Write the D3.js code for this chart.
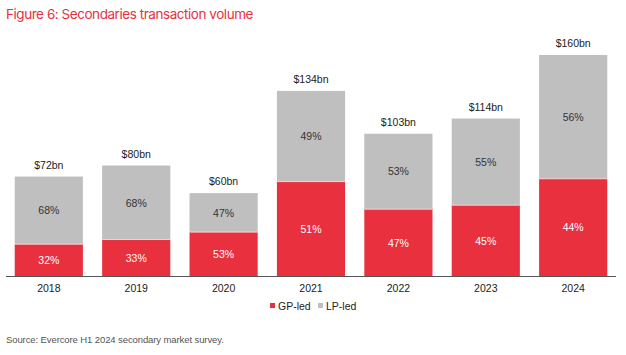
<!DOCTYPE html>
<html><head><meta charset="utf-8">
<script src="https://cdn.jsdelivr.net/npm/d3@7"></script>
<style>body{margin:0;background:#fff}svg{display:block}</style>
</head><body>
<svg id="c" width="626" height="355"></svg>
<script>
const years = ["2018","2019","2020","2021","2022","2023","2024"];
const totals = [72,80,60,134,103,114,160];
const totalLabels = ["$72bn","$80bn","$60bn","$134bn","$103bn","$114bn","$160bn"];
const gpShare = [32,33,53,51,47,45,44];
const lpShare = [68,68,47,49,53,55,56];
const seriesNames = ["GP-led","LP-led"];

const red = "#e8303f", grey = "#bfbfbf";
const svg = d3.select("#c");
const baseY = 276;
const x = d3.scaleBand().domain(years).range([6,616]).paddingInner(0.22).paddingOuter(0.1);
const y = d3.scaleLinear().domain([0,160]).range([baseY, 55]);

svg.append("text").attr("x",6).attr("y",19).attr("fill","#e8303f")
  .style("font-family","Inter, 'Open Sans', sans-serif").style("font-size","13.5px")
  .style("letter-spacing","-0.45px")
  .text("Figure 6: Secondaries transaction volume");

const g = svg.append("g");
years.forEach((yr,i)=>{
  const gpVal = totals[i]*gpShare[i]/100;
  const x0 = x(yr), w = x.bandwidth();
  g.append("rect").attr("x",x0).attr("width",w)
    .attr("y",y(totals[i])).attr("height",y(gpVal)-y(totals[i])).attr("fill",grey);
  g.append("rect").attr("x",x0).attr("width",w)
    .attr("y",y(gpVal)).attr("height",baseY-y(gpVal)).attr("fill",red);
  g.append("line").attr("x1",x0).attr("x2",x0+w).attr("y1",y(gpVal)).attr("y2",y(gpVal))
    .attr("stroke","#f6d0d3").attr("stroke-width",1);
  const f = "'Liberation Sans', Arial, sans-serif";
  g.append("text").attr("x",x0+w/2).attr("y",(y(gpVal)+baseY)/2+4).attr("text-anchor","middle")
    .attr("fill","#fff").style("font-family",f).style("font-size","10.5px").text(gpShare[i]+"%");
  g.append("text").attr("x",x0+w/2).attr("y",(y(gpVal)+y(totals[i]))/2+4).attr("text-anchor","middle")
    .attr("fill","#333").style("font-family",f).style("font-size","10.5px").text(lpShare[i]+"%");
  g.append("text").attr("x",x0+w/2).attr("y",y(totals[i])-8).attr("text-anchor","middle")
    .attr("fill","#222").style("font-family",f).style("font-size","10.5px").text(totalLabels[i]);
});

const ax = svg.append("g").attr("transform",`translate(0,${baseY})`)
  .call(d3.axisBottom(x).tickSize(0).tickPadding(9));
ax.select(".domain").attr("stroke","#555").attr("d","M6,0.5H616");
ax.selectAll("text").attr("fill","#222").style("font-family","'Liberation Sans', Arial, sans-serif").style("font-size","10.5px");

const leg = svg.append("g").attr("transform","translate(270,306)");
const lc = [red, grey];
let lx = 0;
seriesNames.forEach((n,i)=>{
  leg.append("rect").attr("x",lx).attr("y",-3).attr("width",5).attr("height",5).attr("fill",lc[i]);
  leg.append("text").attr("x",lx+8).attr("y",4).attr("fill","#222")
    .style("font-family","'Liberation Sans', Arial, sans-serif").style("font-size","10.5px").text(n);
  lx += 48;
});

svg.append("text").attr("x",6).attr("y",343).attr("fill","#555")
  .style("font-family","'Liberation Sans', Arial, sans-serif").style("font-size","9.5px")
  .style("letter-spacing","-0.1px")
  .text("Source: Evercore H1 2024 secondary market survey.");
</script>
</body></html>
